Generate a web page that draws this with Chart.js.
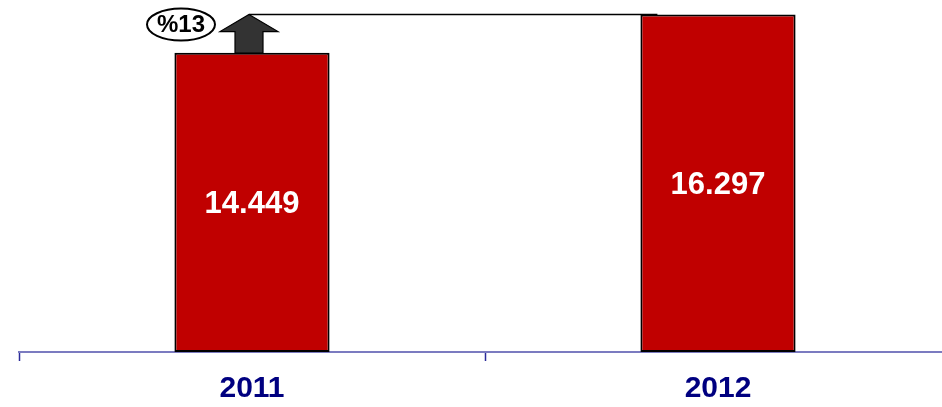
<!DOCTYPE html>
<html>
<head>
<meta charset="utf-8">
<script src="https://cdn.jsdelivr.net/npm/chart.js@4/dist/chart.umd.min.js"></script>
<style>
    html, body { margin: 0; padding: 0; background: #fff; overflow: hidden; }
    #wrap { width: 951px; height: 417px; position: relative; }
</style>
</head>
<body>
<div id="wrap"><canvas id="chart"></canvas></div>
<script>
var years = ['2011', '2012'];
var values = [14449, 16297];
var valueLabels = ['14.449', '16.297'];
var growthLabel = '%13';

// labels in the middle of each bar
var barLabels = {
    id: 'barLabels',
    afterDatasetsDraw: function(chart) {
        var ctx = chart.ctx;
        var meta = chart.getDatasetMeta(0);
        ctx.save();
        ctx.fillStyle = '#ffffff';
        ctx.font = 'bold 31px "Liberation Sans", Arial, sans-serif';
        ctx.textAlign = 'center';
        ctx.textBaseline = 'middle';
        meta.data.forEach(function(bar, i) {
            ctx.fillText(valueLabels[i], bar.x, (bar.y + bar.base) / 2 + 2);
        });
        ctx.restore();
    }
};

// growth arrow from first bar up to the level of the second one
var growthArrow = {
    id: 'growthArrow',
    afterDatasetsDraw: function(chart) {
        var ctx = chart.ctx;
        var meta = chart.getDatasetMeta(0);
        var a = meta.data[0], b = meta.data[1];
        var tipX = a.x - 3, tipY = b.y;
        var headY = tipY + 17;
        ctx.save();

        ctx.strokeStyle = '#000';
        ctx.lineWidth = 1.5;
        ctx.beginPath();
        ctx.moveTo(tipX, tipY);
        ctx.lineTo(b.x - b.width / 2 + 17, tipY);
        ctx.stroke();

        ctx.beginPath();
        ctx.moveTo(tipX, tipY);
        ctx.lineTo(tipX + 29, headY);
        ctx.lineTo(tipX + 14, headY);
        ctx.lineTo(tipX + 14, a.y);
        ctx.lineTo(tipX - 14, a.y);
        ctx.lineTo(tipX - 14, headY);
        ctx.lineTo(tipX - 29, headY);
        ctx.closePath();
        ctx.fillStyle = '#333333';
        ctx.fill();
        ctx.lineWidth = 1.2;
        ctx.stroke();

        var ex = tipX - 68, ey = tipY + 10;
        ctx.beginPath();
        ctx.ellipse(ex, ey, 34, 16, 0, 0, Math.PI * 2);
        ctx.fillStyle = '#fff';
        ctx.fill();
        ctx.lineWidth = 2;
        ctx.stroke();

        ctx.fillStyle = '#000';
        ctx.font = 'bold 24px "Liberation Sans", Arial, sans-serif';
        ctx.textAlign = 'center';
        ctx.textBaseline = 'middle';
        ctx.fillText(growthLabel, ex, ey + 1);
        ctx.restore();
    }
};

new Chart(document.getElementById('chart'), {
    type: 'bar',
    data: {
        labels: years,
        datasets: [{
            data: values,
            backgroundColor: '#C00000',
            borderColor: '#000000',
            borderWidth: 2,
            borderSkipped: false,
            categoryPercentage: 1,
            barPercentage: 0.333
        }]
    },
    options: {
        responsive: true,
        maintainAspectRatio: false,
        animation: false,
        layout: { padding: { left: 19, right: 0, top: 0, bottom: 0 } },
        plugins: {
            legend: { display: false },
            tooltip: { enabled: false }
        },
        scales: {
            x: {
                offset: true,
                grid: {
                    offset: true,
                    drawOnChartArea: false,
                    drawTicks: true,
                    tickLength: 9,
                    tickWidth: 1.5,
                    tickColor: '#2a2a9a'
                },
                border: { display: true, color: '#7b7bc0', width: 2 },
                ticks: {
                    color: '#000080',
                    padding: 10,
                    font: { family: '"Liberation Sans", Arial, sans-serif', size: 30, weight: 'bold' }
                }
            },
            y: {
                display: false,
                min: 0,
                max: 17000
            }
        }
    },
    plugins: [barLabels, growthArrow]
});
</script>
</body>
</html>
